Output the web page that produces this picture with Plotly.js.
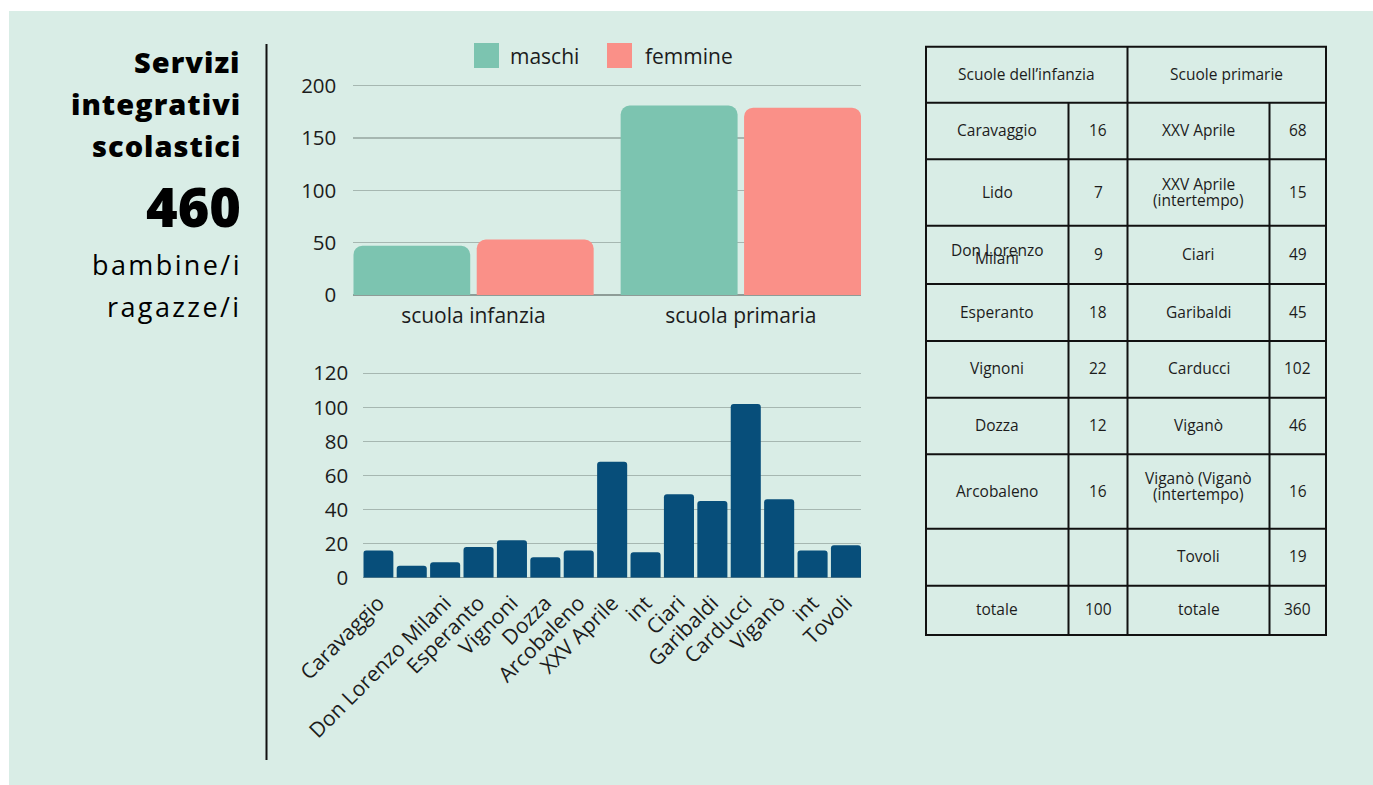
<!DOCTYPE html>
<html>
<head>
<meta charset="utf-8">
<script src="https://cdn.plot.ly/plotly-3.0.1.min.js"></script>
<style>
html,body{margin:0;padding:0;background:#ffffff;}
#chart{width:1373px;height:785px;}
</style>
</head>
<body>
<div id="chart"></div>
<script>
// ---------- DATA ----------
var groups = ['scuola infanzia', 'scuola primaria'];
var maschi = [47, 181];
var femmine = [53, 179];
var seriesNames = ['maschi', 'femmine'];

var schools = ['Caravaggio', 'Lido', 'Don Lorenzo Milani', 'Esperanto', 'Vignoni', 'Dozza', 'Arcobaleno',
  'XXV Aprile', 'XXV Aprile (intertempo)', 'Ciari', 'Garibaldi', 'Carducci', 'Viganò', 'Viganò (intertempo)', 'Tovoli'];
var schoolValues = [16, 7, 9, 18, 22, 12, 16, 68, 15, 49, 45, 102, 46, 16, 19];
var schoolTickLabels = ['Caravaggio', '', 'Don Lorenzo Milani', 'Esperanto', 'Vignoni', 'Dozza', 'Arcobaleno',
  'XXV Aprile', 'int', 'Ciari', 'Garibaldi', 'Carducci', 'Viganò', 'int', 'Tovoli'];

var tableHeaders = ['Scuole dell\u2019infanzia', 'Scuole primarie'];
var infanziaNames = ['Caravaggio', 'Lido', 'Don Lorenzo\nMilani', 'Esperanto', 'Vignoni', 'Dozza', 'Arcobaleno', '', 'totale'];
var infanziaValues = ['16', '7', '9', '18', '22', '12', '16', '', '100'];
var primariaNames = ['XXV Aprile', 'XXV Aprile\n(intertempo)', 'Ciari', 'Garibaldi', 'Carducci', 'Viganò', 'Viganò (Viganò\n(intertempo)', 'Tovoli', 'totale'];
var primariaValues = ['68', '15', '49', '45', '102', '46', '16', '19', '360'];

var titleLines = ['Servizi', 'integrativi', 'scolastici'];
var bigNumber = '460';
var subLines = ['bambine/i', 'ragazze/i'];

var topTicks = [0, 50, 100, 150, 200];
var bottomTicks = [0, 20, 40, 60, 80, 100, 120];

// ---------- LAYOUT HELPERS ----------
var W = 1373, H = 785;
function px(x) { return x / W; }
function py(y) { return 1 - y / H; }
var FONT = 'Open Sans';
var TXT = '#1c1c1c';
var colM = '#7cc4b0', colF = '#fa9088', colB = '#074e7a';
var bg = '#d9ede6';

function spaced(t, ls) { return '<span style="letter-spacing:' + ls + 'px">' + t + '</span>'; }

var traces = [
  { type: 'bar', x: groups, y: maschi, name: seriesNames[0], xaxis: 'x', yaxis: 'y',
    marker: { color: colM, cornerradius: 9 }, showlegend: false, hoverinfo: 'none' },
  { type: 'bar', x: groups, y: femmine, name: seriesNames[1], xaxis: 'x', yaxis: 'y',
    marker: { color: colF, cornerradius: 9 }, showlegend: false, hoverinfo: 'none' },
  { type: 'bar', x: schools, y: schoolValues, xaxis: 'x2', yaxis: 'y2', width: 0.9, offset: -0.45,
    marker: { color: colB, cornerradius: 3 }, showlegend: false, hoverinfo: 'none' }
];

var shapes = [];
var annotations = [];

// background
shapes.push({ type: 'rect', xref: 'paper', yref: 'paper', x0: px(9), x1: 1, y0: 0, y1: py(11),
  fillcolor: bg, line: { width: 0 }, layer: 'below' });
// vertical separator
shapes.push({ type: 'line', xref: 'paper', yref: 'paper', x0: px(266.5), x1: px(266.5), y0: py(44), y1: py(760),
  line: { color: '#111', width: 2 } });

// left texts
var titleY = [62, 104, 146];
titleLines.forEach(function (t, i) {
  annotations.push({ text: spaced(t, 1), xref: 'paper', yref: 'paper', x: px(243), y: py(titleY[i]), xanchor: 'right', yanchor: 'middle',
    showarrow: false, font: { family: FONT, size: 29, weight: 800, color: '#000' } });
});
annotations.push({ text: bigNumber, xref: 'paper', yref: 'paper', x: px(243), y: py(206), xanchor: 'right', yanchor: 'middle',
  showarrow: false, font: { family: FONT, size: 54, weight: 800, color: '#000' } });
var subY = [265, 306];
subLines.forEach(function (t, i) {
  annotations.push({ text: spaced(t, 2.4), xref: 'paper', yref: 'paper', x: px(244), y: py(subY[i]), xanchor: 'right', yanchor: 'middle',
    showarrow: false, font: { family: FONT, size: 27, weight: 500, color: '#000' } });
});

// manual legend
var legSq = [474, 607], legTx = [508, 643], legCol = [colM, colF];
seriesNames.forEach(function (n, i) {
  shapes.push({ type: 'rect', xref: 'paper', yref: 'paper', x0: px(legSq[i]), x1: px(legSq[i] + 25), y0: py(68), y1: py(43),
    fillcolor: legCol[i], line: { width: 0 } });
  annotations.push({ text: n, xref: 'paper', yref: 'paper', x: px(legTx[i]), y: py(56), xanchor: 'left', yanchor: 'middle',
    showarrow: false, font: { family: FONT, size: 21, color: TXT } });
});

// table
var colX = [926, 1068.5, 1127.5, 1269.5, 1326];
var rowY = [46.7, 102.7, 159.3, 225.7, 284, 341, 397.7, 454.3, 528.7, 585.7, 635];
var tcol = '#111';
function hline(y, xa, xb) {
  shapes.push({ type: 'line', xref: 'paper', yref: 'paper', x0: px(xa), x1: px(xb), y0: py(y), y1: py(y), line: { color: tcol, width: 2 } });
}
function vline(x, ya, yb) {
  shapes.push({ type: 'line', xref: 'paper', yref: 'paper', x0: px(x), x1: px(x), y0: py(ya), y1: py(yb), line: { color: tcol, width: 2 } });
}
rowY.forEach(function (y) { hline(y, colX[0] - 1, colX[4] + 1); });
vline(colX[0], rowY[0], rowY[rowY.length - 1]);
vline(colX[2], rowY[0], rowY[rowY.length - 1]);
vline(colX[4], rowY[0], rowY[rowY.length - 1]);
vline(colX[1], rowY[1], rowY[rowY.length - 1]);
vline(colX[3], rowY[1], rowY[rowY.length - 1]);

function cellText(t, cx, cy, gap) {
  if (!t) return;
  var lines = t.split('\n');
  var n = lines.length;
  lines.forEach(function (l, k) {
    var yy = cy + (k - (n - 1) / 2) * gap;
    annotations.push({ text: l, xref: 'paper', yref: 'paper', x: px(cx), y: py(yy), xanchor: 'center', yanchor: 'middle',
      showarrow: false, font: { family: FONT, size: 15.5, color: TXT } });
  });
}
var headMid = (rowY[0] + rowY[1]) / 2 - 1;
cellText(tableHeaders[0], (colX[0] + colX[2]) / 2, headMid, 0);
cellText(tableHeaders[1], (colX[2] + colX[4]) / 2, headMid, 0);
for (var r = 0; r < infanziaNames.length; r++) {
  var cy = (rowY[r + 1] + rowY[r + 2]) / 2 - 1;
  var g1 = (r === 2) ? 8 : 15;
  var g2 = 16;
  cellText(infanziaNames[r], (colX[0] + colX[1]) / 2, cy, g1);
  cellText(infanziaValues[r], (colX[1] + colX[2]) / 2, cy, 0);
  cellText(primariaNames[r], (colX[2] + colX[3]) / 2, (r === 6 ? cy - 5 : cy), g2);
  cellText(primariaValues[r], (colX[3] + colX[4]) / 2, cy, 0);
}

var gridCol = '#a6b7b1';
var layout = {
  width: W, height: H,
  margin: { l: 0, r: 0, t: 0, b: 0 },
  paper_bgcolor: '#ffffff',
  plot_bgcolor: 'rgba(0,0,0,0)',
  barmode: 'group',
  bargap: 0.0766,
  bargroupgap: 0.0526,
  showlegend: false,
  font: { family: FONT, color: TXT },
  xaxis: {
    domain: [px(353.3), px(861)], range: [-0.4495, 1.4495], type: 'category',
    showgrid: false, showline: false, ticks: '', tickfont: { family: FONT, size: 21, color: TXT },
    ticklabelstandoff: 6, fixedrange: true
  },
  yaxis: {
    domain: [py(295), py(83.5)], range: [0, 202.1], tickmode: 'array', tickvals: topTicks,
    showgrid: true, gridcolor: gridCol, gridwidth: 1.5,
    zeroline: true, zerolinecolor: '#8e9c97', zerolinewidth: 1.5,
    showline: false, ticks: '', tickfont: { family: FONT, size: 20.5, color: TXT },
    ticklabelstandoff: 16, fixedrange: true
  },
  xaxis2: {
    domain: [px(363.3), px(861)], range: [-0.45, 14.45], type: 'category',
    categoryorder: 'array', categoryarray: schools,
    tickmode: 'array', tickvals: schools, ticktext: schoolTickLabels,
    tickangle: -45, showgrid: false, showline: false, ticks: '',
    tickfont: { family: FONT, size: 21, color: TXT }, ticklabelstandoff: 8, anchor: 'y2', fixedrange: true
  },
  yaxis2: {
    domain: [py(577.7), py(370.7)], range: [0, 121.5], tickmode: 'array', tickvals: bottomTicks,
    showgrid: true, gridcolor: gridCol, gridwidth: 1.5,
    zeroline: true, zerolinecolor: '#8e9c97', zerolinewidth: 1.5,
    showline: false, ticks: '', tickfont: { family: FONT, size: 20.5, color: TXT },
    ticklabelstandoff: 14, anchor: 'x2', fixedrange: true
  },
  shapes: shapes,
  annotations: annotations
};

Plotly.newPlot('chart', traces, layout, { displayModeBar: false, staticPlot: true });
</script>
</body>
</html>
